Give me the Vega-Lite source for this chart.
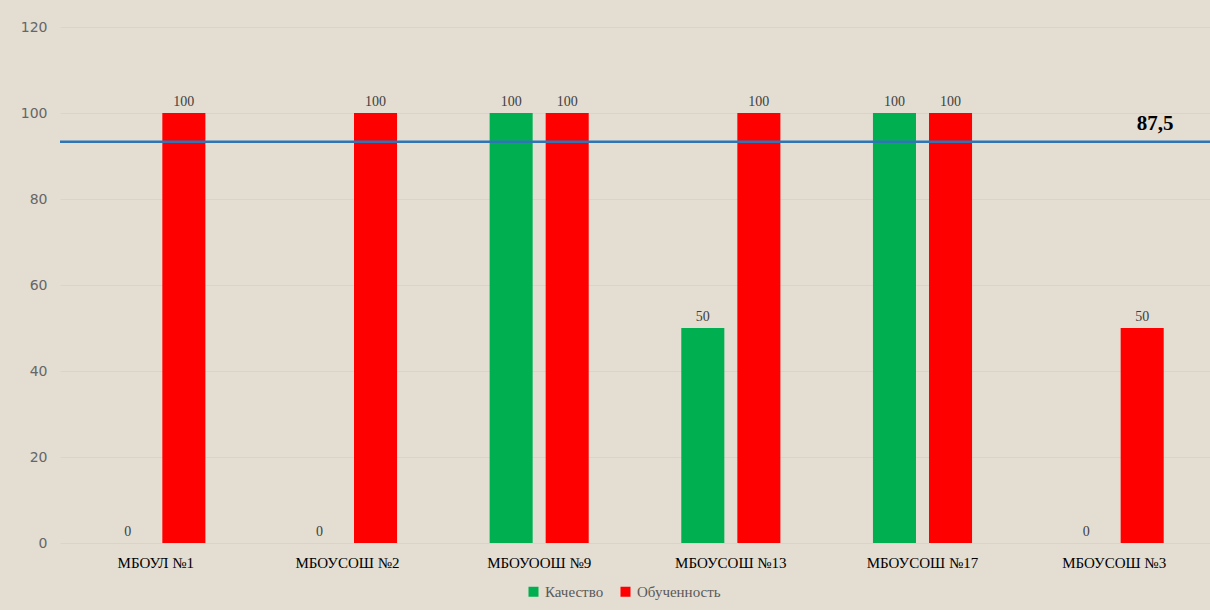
{
  "$schema": "https://vega.github.io/schema/vega-lite/v6.json",
  "width": 1150,
  "height": 516,
  "autosize": {"type": "none"},
  "padding": {"left": 60, "top": 27, "right": 0, "bottom": 67},
  "background": "#E3DDD2",
  "config": {
    "view": {"stroke": null},
    "axis": {"gridColor": "#D9D3C9", "gridWidth": 1}
  },
  "datasets": {
    "scores": [
      {"school": "МБОУЛ №1", "measure": "Качество", "value": 0},
      {"school": "МБОУЛ №1", "measure": "Обученность", "value": 100},
      {"school": "МБОУСОШ №2", "measure": "Качество", "value": 0},
      {"school": "МБОУСОШ №2", "measure": "Обученность", "value": 100},
      {"school": "МБОУООШ №9", "measure": "Качество", "value": 100},
      {"school": "МБОУООШ №9", "measure": "Обученность", "value": 100},
      {"school": "МБОУСОШ №13", "measure": "Качество", "value": 50},
      {"school": "МБОУСОШ №13", "measure": "Обученность", "value": 100},
      {"school": "МБОУСОШ №17", "measure": "Качество", "value": 100},
      {"school": "МБОУСОШ №17", "measure": "Обученность", "value": 100},
      {"school": "МБОУСОШ №3", "measure": "Качество", "value": 0},
      {"school": "МБОУСОШ №3", "measure": "Обученность", "value": 50}
    ],
    "average": [
      {"school": "МБОУСОШ №3", "level": 93.3, "label": "87,5"}
    ]
  },
  "layer": [
    {
      "data": {"name": "scores"},
      "mark": {"type": "bar"},
      "encoding": {
        "x": {
          "field": "school",
          "type": "nominal",
          "sort": null,
          "title": null,
          "scale": {"paddingInner": 0.483, "paddingOuter": 0.2415},
          "axis": {
            "labelAngle": 0,
            "labelFont": "Liberation Serif",
            "labelFontSize": 15,
            "labelColor": "#000000",
            "labelPadding": 12,
            "ticks": false,
            "domain": false
          }
        },
        "xOffset": {
          "field": "measure",
          "type": "nominal",
          "scale": {"paddingInner": 0.232}
        },
        "y": {
          "field": "value",
          "type": "quantitative",
          "title": null,
          "scale": {"domain": [0, 120]},
          "axis": {
            "values": [0, 20, 40, 60, 80, 100, 120],
            "labelFont": "DejaVu Sans",
            "labelFontSize": 14,
            "labelColor": "#666666",
            "labelPadding": 13,
            "ticks": false,
            "domain": false
          }
        },
        "color": {
          "field": "measure",
          "type": "nominal",
          "title": null,
          "scale": {"domain": ["Качество", "Обученность"], "range": ["#00B050", "#FF0000"]},
          "legend": {
            "orient": "none",
            "legendX": 466,
            "legendY": 557,
            "direction": "horizontal",
            "symbolType": "square",
            "symbolSize": 100,
            "symbolStrokeWidth": 0,
            "labelFont": "Liberation Serif",
            "labelFontSize": 15,
            "labelColor": "#595959",
            "labelOffset": 4,
            "columnPadding": 14
          }
        }
      }
    },
    {
      "data": {"name": "scores"},
      "mark": {"type": "text", "dy": -11, "font": "Liberation Serif", "fontSize": 14, "color": "#404040"},
      "encoding": {
        "x": {"field": "school", "type": "nominal", "sort": null},
        "xOffset": {"field": "measure", "type": "nominal"},
        "y": {"field": "value", "type": "quantitative"},
        "text": {"field": "value", "type": "quantitative"}
      }
    },
    {
      "data": {"name": "average"},
      "mark": {"type": "rule", "color": "#2E75B6", "strokeWidth": 2.5},
      "encoding": {
        "y": {"field": "level", "type": "quantitative"}
      }
    },
    {
      "data": {"name": "average"},
      "mark": {"type": "text", "font": "Liberation Serif", "fontSize": 21, "fontWeight": "bold", "color": "#000000", "dx": 41, "dy": -18},
      "encoding": {
        "x": {"field": "school", "type": "nominal", "sort": null},
        "y": {"field": "level", "type": "quantitative"},
        "text": {"field": "label"}
      }
    }
  ]
}
